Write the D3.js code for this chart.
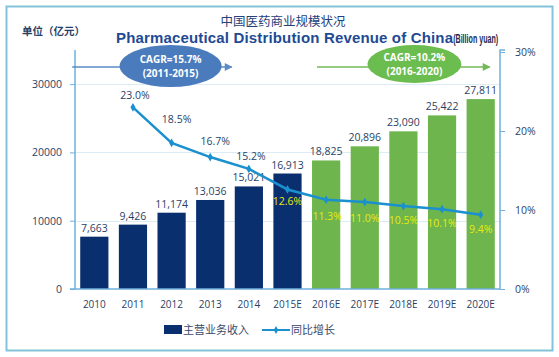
<!DOCTYPE html>
<html><head><meta charset="utf-8">
<script src="https://cdn.jsdelivr.net/npm/d3@7"></script>
<style>
html,body{margin:0;padding:0;background:#fff;}
svg{display:block;}
</style></head>
<body>
<svg id="chart" width="559" height="357"></svg>
<script>
const categories = ["2010","2011","2012","2013","2014","2015E","2016E","2017E","2018E","2019E","2020E"];
const revenue = [7663, 9426, 11174, 13036, 15021, 16913, 18825, 20896, 23090, 25422, 27811];
const growth = [null, 23.0, 18.5, 16.7, 15.2, 12.6, 11.3, 11.0, 10.5, 10.1, 9.4];
const leftTicks = [0, 10000, 20000, 30000];
const rightTicks = [0, 10, 20, 30];
const seriesNames = ["主营业务收入", "同比增长"];
const cagrLabels = [["CAGR=15.7%", "(2011-2015)"], ["CAGR=10.2%", "(2016-2020)"]];

const navy = "#0a2f6e", green = "#6db54c", lineC = "#1b90cf", textC = "#2a3f66";
const svg = d3.select("#chart");
const font = "'Open Sans','DejaVu Sans',sans-serif";
const cjk = "'Noto Sans CJK SC',sans-serif";

// outer border
svg.append("rect").attr("x",6.5).attr("y",6.5).attr("width",546).attr("height",344)
  .attr("fill","none").attr("stroke","#82c3d9").attr("stroke-width",2);

const L = 75, R = 500, T = 50, B = 289;
const x = d3.scaleBand().domain(categories).range([L, R]).paddingInner(0.27).paddingOuter(0.135);
const y = d3.scaleLinear().domain([0, 35000]).range([B, T]);
const y2 = d3.scaleLinear().domain([0, 30]).range([B, T + 2]);

// gridlines
svg.append("g").selectAll("line").data(leftTicks.slice(1)).join("line")
  .attr("x1", L).attr("x2", R).attr("y1", d => Math.round(y(d))+0.5).attr("y2", d => Math.round(y(d))+0.5)
  .attr("stroke", "#dcecf6").attr("stroke-width", 1);

// bars
svg.append("g").selectAll("rect").data(revenue).join("rect")
  .attr("x", (d,i) => x(categories[i])).attr("width", x.bandwidth())
  .attr("y", d => y(d)).attr("height", d => B - y(d))
  .attr("fill", (d,i) => categories[i].endsWith("E") && i > 5 ? green : navy);

// bar labels
svg.append("g").selectAll("text").data(revenue).join("text")
  .attr("x", (d,i) => x(categories[i]) + x.bandwidth()/2).attr("y", d => y(d) - 5)
  .attr("text-anchor","middle").attr("font-family", font).attr("font-size", 10.5)
  .attr("fill", textC).text(d => d3.format(",")(d));

// axes
const axL = svg.append("g").attr("transform", `translate(${L},0)`)
  .call(d3.axisLeft(y).tickValues(leftTicks).tickSize(5).tickPadding(8).tickFormat(d3.format("d")));
const axR = svg.append("g").attr("transform", `translate(${R},0)`)
  .call(d3.axisRight(y2).tickValues(rightTicks).tickSize(5).tickPadding(10).tickFormat(d => d + "%"));
const axB = svg.append("g").attr("transform", `translate(0,${B})`)
  .call(d3.axisBottom(x).tickSize(0).tickPadding(12));
[axL, axR, axB].forEach(a => {
  a.select(".domain").attr("stroke", "#6fb0dc").attr("stroke-width", 1.5);
  a.selectAll(".tick line").attr("stroke", "#6fb0dc");
  a.selectAll("text").attr("font-family", font).attr("font-size", 10.5).attr("fill", textC);
});
axB.select(".domain").attr("d", `M${L-5},0H${R}`);
axL.select(".domain").attr("d", `M0,${B}V${T}`);
axR.select(".domain").attr("d", `M0,${B}V${T}H5`);
axB.selectAll(".tick text").attr("font-size", 10);

// growth line
const pts = growth.map((g,i) => g == null ? null : [x(categories[i]) + x.bandwidth()/2, y2(g), g, i]).filter(p => p);
svg.append("path").datum(pts).attr("fill","none").attr("stroke", lineC).attr("stroke-width", 2.5)
  .attr("d", d3.line().x(d => d[0]).y(d => d[1]));
svg.append("g").selectAll("path").data(pts).join("path")
  .attr("transform", d => `translate(${d[0]},${d[1]})`)
  .attr("d", d3.symbol(d3.symbolDiamond, 22)).attr("fill", lineC);

// growth labels
const labelDy = [0, -12, -24, -16, -13, 12, 16, 16, 14, 14, 14];
const labelDx = [0, 2, 5, 5, 2, 0, 1, 0, 0, 0, 0];
svg.append("g").selectAll("text").data(pts).join("text")
  .attr("x", d => d[0] + labelDx[d[3]]).attr("y", d => d[1] + labelDy[d[3]] + 4)
  .attr("text-anchor","middle").attr("font-family", font).attr("font-size", 10.5)
  .attr("fill", d => d[3] >= 5 ? "#eaea10" : textC)
  .text(d => d[2].toFixed(1) + "%");

// CAGR arrows and ellipses
const defs = svg.append("defs");
[["arB","#5b8bc6"],["arG","#74b957"]].forEach(([id,c]) => {
  defs.append("marker").attr("id", id).attr("viewBox","0 0 10 10").attr("refX",9).attr("refY",5)
    .attr("markerWidth",8).attr("markerHeight",6).attr("orient","auto")
    .append("path").attr("d","M0,0L10,5L0,10z").attr("fill", c);
});
const cagr = [
  {x1: x("2010") - 8, x2: x("2014") - 3, cx: x("2012") + x.bandwidth()/2 - 1, cy: 66, rx: 51, ry: 21, fill: "#4a7cbd", stroke: "#5b8bc6", m: "arB"},
  {x1: x("2016E") + 5, x2: x("2020E") + x.bandwidth() - 5, cx: x("2018E") + x.bandwidth()/2 + 11, cy: 64, rx: 47, ry: 19, fill: "#6cbd4f", stroke: "#74b957", m: "arG"}
];
cagr.forEach((c, k) => {
  svg.append("line").attr("x1", c.x1).attr("x2", c.x2).attr("y1", 67).attr("y2", 67)
    .attr("stroke", c.stroke).attr("stroke-width", 1.3).attr("marker-end", `url(#${c.m})`);
  svg.append("ellipse").attr("cx", c.cx).attr("cy", c.cy).attr("rx", c.rx).attr("ry", c.ry).attr("fill", c.fill);
  cagrLabels[k].forEach((t, j) => {
    svg.append("text").attr("x", c.cx).attr("y", c.cy - 3 + j * 14).attr("text-anchor","middle")
      .attr("font-family", font).attr("font-size", 10).attr("font-weight","bold").attr("fill","#fff").text(t);
  });
});

// titles
svg.append("text").attr("x", 283).attr("y", 26).attr("text-anchor","middle")
  .attr("font-family", cjk).attr("font-size", 12.5).attr("fill", "#24407a").text("中国医药商业规模状况");
const t2 = svg.append("text").attr("x", 116).attr("y", 43)
  .attr("font-family", "'Liberation Sans',Arial,sans-serif").attr("font-weight","bold").attr("fill", "#1f4a94");
t2.append("tspan").attr("font-size", 15).attr("textLength", 337).attr("lengthAdjust","spacing")
  .text("Pharmaceutical Distribution Revenue of China");
t2.append("tspan").attr("font-size", 12).attr("fill","#1b2a50").attr("textLength", 45).attr("lengthAdjust","spacingAndGlyphs")
  .text("(Billion yuan)");
svg.append("text").attr("x", 22).attr("y", 35).attr("font-family", cjk).attr("font-weight","bold")
  .attr("font-size", 10.5).attr("fill", textC).text("单位（亿元）");

// legend
const lg = svg.append("g");
lg.append("rect").attr("x", 164).attr("y", 325).attr("width", 18).attr("height", 9).attr("fill", navy);
lg.append("text").attr("x", 183).attr("y", 334).attr("font-family", cjk).attr("font-size", 11).attr("fill","#3a4a6a").text(seriesNames[0]);
lg.append("line").attr("x1", 262).attr("x2", 290).attr("y1", 330).attr("y2", 330).attr("stroke", lineC).attr("stroke-width", 2);
lg.append("path").attr("transform","translate(276,330)").attr("d", d3.symbol(d3.symbolDiamond, 18)).attr("fill", lineC);
lg.append("text").attr("x", 291).attr("y", 334).attr("font-family", cjk).attr("font-size", 11).attr("fill","#3a4a6a").text(seriesNames[1]);
</script>
</body></html>
